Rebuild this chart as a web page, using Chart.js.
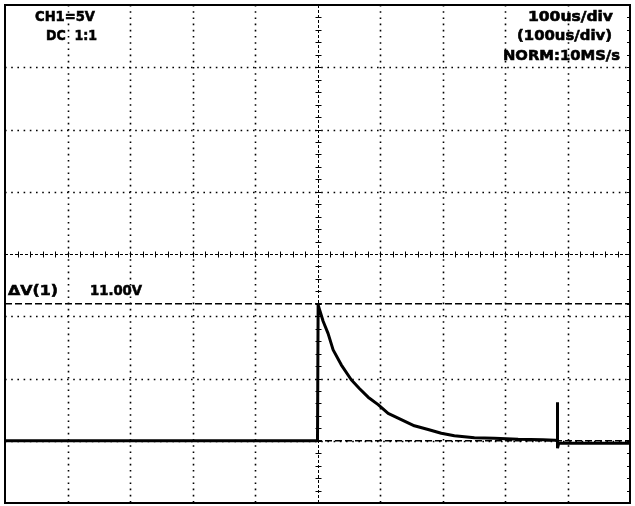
<!DOCTYPE html>
<html>
<head>
<meta charset="utf-8">
<script src="https://cdn.jsdelivr.net/npm/chart.js@4/dist/chart.umd.min.js"></script>
<style>
  html, body { margin: 0; padding: 0; background: #fff; }
  #wrap { width: 635px; height: 506px; }
</style>
</head>
<body>
<div id="wrap"><canvas id="scope" width="635" height="506"></canvas></div>
<script>
// --- Trace data (time in us, voltage in V; 100us/div, 5V/div) ---
const traceTimes = [-500, 0, 1, 9, 17, 25, 38, 54, 67, 81, 97, 113, 134, 155, 177, 198, 219, 251, 283, 321, 361, 380, 384, 384, 384, 386, 500];
const traceVolts = [-15, -15, -4.1, -5.4, -6.4, -7.7, -8.9, -10.1, -10.8, -11.5, -12.1, -12.8, -13.3, -13.8, -14.1, -14.4, -14.6, -14.75, -14.8, -14.88, -14.92, -14.95, -15, -11.9, -15.6, -15.2, -15.2];

// --- Cursor levels (V) ---
const cursorLevels = [-4, -15];
const cursorSpan = [-500, 500];

// --- Screen texts ---
const topLeftLabels = ['CH1=5V', 'DC  1:1'];
const topRightLabels = ['100us/div', '(100us/div)', 'NORM:10MS/s'];
const deltaLabel = 'ΔV(1)';
const deltaValue = '11.00V';

// --- Axis ranges ---
const timeRange = [-500, 500];
const voltRange = [-20, 20];
const timeStep = 100;
const voltStep = 5;

function makePoints(xs, ys) {
    return xs.map((x, i) => ({ x: x, y: ys[i] }));
}

// draws the dotted graticule, centre cross and frame
const graticule = {
    id: 'graticule',
    beforeDatasetsDraw(chart) {
        const ctx = chart.ctx;
        const area = chart.chartArea;
        const xs = chart.scales.x;
        const ys = chart.scales.y;
        ctx.save();
        ctx.strokeStyle = '#000';

        // dotted division lines
        ctx.lineWidth = 1.6;
        ctx.setLineDash([1.6, 4.6]);
        for (let t = timeRange[0] + timeStep; t < timeRange[1]; t += timeStep) {
            if (t === 0) continue;
            const px = Math.round(xs.getPixelForValue(t)) + 0.5;
            ctx.beginPath(); ctx.moveTo(px, area.top); ctx.lineTo(px, area.bottom); ctx.stroke();
        }
        for (let v = voltRange[0] + voltStep; v < voltRange[1]; v += voltStep) {
            if (v === 0) continue;
            const py = Math.round(ys.getPixelForValue(v)) + 0.5;
            ctx.beginPath(); ctx.moveTo(area.left, py); ctx.lineTo(area.right, py); ctx.stroke();
        }

        // centre cross with minor ticks
        const cx = Math.round(xs.getPixelForValue(0)) + 0.5;
        const cy = Math.round(ys.getPixelForValue(0)) + 0.5;
        ctx.lineWidth = 1;
        ctx.setLineDash([3, 2]);
        ctx.beginPath(); ctx.moveTo(area.left, cy); ctx.lineTo(area.right, cy); ctx.stroke();
        ctx.beginPath(); ctx.moveTo(cx, area.top); ctx.lineTo(cx, area.bottom); ctx.stroke();
        ctx.setLineDash([]);
        ctx.beginPath();
        for (let t = timeRange[0]; t <= timeRange[1]; t += timeStep / 5) {
            const px = Math.round(xs.getPixelForValue(t)) + 0.5;
            ctx.moveTo(px, cy - 3); ctx.lineTo(px, cy + 3);
        }
        for (let v = voltRange[0]; v <= voltRange[1]; v += voltStep / 5) {
            const py = Math.round(ys.getPixelForValue(v)) + 0.5;
            ctx.moveTo(cx - 3, py); ctx.lineTo(cx + 3, py);
            ctx.moveTo(area.right - 3, py); ctx.lineTo(area.right, py);
        }
        ctx.stroke();

        // frame
        ctx.lineWidth = 2;
        ctx.strokeRect(area.left, area.top, area.right - area.left, area.bottom - area.top);
        ctx.restore();
    },
    afterDraw(chart) {
        const ctx = chart.ctx;
        ctx.save();
        ctx.fillStyle = '#000';
        ctx.strokeStyle = '#000';
        ctx.lineWidth = 0.6;
        ctx.font = 'bold 14px "DejaVu Sans"';
        ctx.textBaseline = 'alphabetic';
        // stretch each label to the width it has on the scope screen
        const put = (text, x, y, w) => {
            const m = ctx.measureText(text).width;
            ctx.save();
            ctx.translate(x, y);
            ctx.scale(w / m, 1);
            ctx.fillText(text, 0, 0);
            ctx.strokeText(text, 0, 0);
            ctx.restore();
        };
        put(topLeftLabels[0], 35, 21, 60);
        put(topLeftLabels[1], 46, 40, 51);
        put(topRightLabels[0], 528, 21, 85);
        put(topRightLabels[1], 517, 40, 95);
        put(topRightLabels[2], 503, 60, 117);
        put(deltaLabel, 8, 295, 50);
        put(deltaValue, 90, 295, 52);
        ctx.restore();
    }
};

const ctx = document.getElementById('scope').getContext('2d');
new Chart(ctx, {
    type: 'line',
    data: {
        datasets: [
            {
                label: 'CH1',
                data: makePoints(traceTimes, traceVolts),
                borderColor: '#000',
                borderWidth: 3,
                borderJoinStyle: 'bevel',
                pointRadius: 0,
                tension: 0
            },
            ...cursorLevels.map((lv, i) => ({
                label: 'Cursor ' + (i + 1),
                data: makePoints(cursorSpan, [lv, lv]),
                borderColor: '#000',
                borderWidth: 1.5,
                borderDash: [7, 3],
                pointRadius: 0
            }))
        ]
    },
    options: {
        responsive: false,
        animation: false,
        devicePixelRatio: 1,
        layout: { padding: { left: 5, right: 5, top: 5, bottom: 3 } },
        scales: {
            x: { type: 'linear', min: timeRange[0], max: timeRange[1], display: false },
            y: { type: 'linear', min: voltRange[0], max: voltRange[1], display: false }
        },
        plugins: {
            legend: { display: false },
            tooltip: { enabled: false }
        }
    },
    plugins: [graticule]
});
</script>
</body>
</html>
